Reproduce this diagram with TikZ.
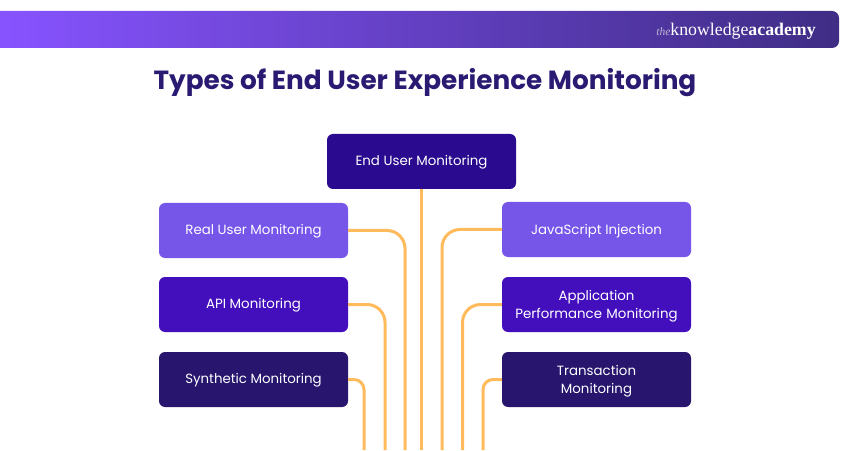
\documentclass[tikz,border=0pt]{standalone}
\usepackage{fontspec}
\setmainfont{Poppins}
\newfontfamily\logofont{Liberation Serif}
\usetikzlibrary{positioning}
\definecolor{rootblue}{HTML}{2A0A8E}
\definecolor{lightviolet}{HTML}{7655E9}
\definecolor{midviolet}{HTML}{430FBC}
\definecolor{darkviolet}{HTML}{27156E}
\definecolor{linkorange}{HTML}{FFBA5C}
\definecolor{titleblue}{HTML}{2A1A72}
\definecolor{bannerleft}{HTML}{8753FF}
\definecolor{bannerright}{HTML}{3F2D85}

\begin{document}
\begin{tikzpicture}[x=1pt,y=1pt,every node/.append style={on grid,node distance=74.5pt and 343pt},
                    typebox/.style={rounded corners=6pt,minimum width=189pt,minimum height=55pt,inner sep=0pt,
                                    align=center,text=white,font=\fontsize{13.35}{18}\selectfont,
                                    execute at begin node={\rule{0pt}{12.5pt}}},
                    twoline/.style={text width=189pt,execute at begin node={\rule{0pt}{13pt}}},
                    link/.style={draw=linkorange,line width=3pt,rounded corners=18pt}]
\useasboundingbox (0,0) rectangle (850,450);

\shade[left color=bannerleft,right color=bannerright] (0,402) [rounded corners=7pt] -- (839,402) -- (839,439) [sharp corners] -- (0,439) -- cycle;
\node (logo) at (736,419) {\logofont\fontsize{17.8}{18}\selectfont\color{white}{\fontsize{11.5}{18}\selectfont\itshape\color{white!65!bannerright}the}knowledge\textbf{academy}};
\node (title) at (425,367.5) {\fontsize{26.3}{30}\selectfont\bfseries\color{titleblue}Types of End User Experience Monitoring};

\node [typebox,fill=rootblue] (root) at (421.5,288.5) {End User Monitoring};
\node [typebox,fill=lightviolet] (real) at (253.5,219.5) {Real User Monitoring};
\node [typebox,fill=midviolet,below=of real,yshift=0.5pt] (api) {API Monitoring};
\node [typebox,fill=darkviolet,below=of api,yshift=-0.5pt] (synth) {Synthetic Monitoring};
\node [typebox,fill=lightviolet,right=of real,yshift=1pt] (js) {JavaScript Injection};
\node [typebox,twoline,fill=midviolet,right=of api] (apm) {Application\\Performance Monitoring};
\node [typebox,twoline,fill=darkviolet,right=of synth] (trans) {Transaction\\Monitoring};

\coordinate (endroot) at (421.5,0);
\coordinate (endreal) at (405,0);
\coordinate (endapi) at (385,0);
\coordinate (endsynth) at (364,0);
\coordinate (endjs) at (442,0);
\coordinate (endapm) at (462.5,0);
\coordinate (endtrans) at (483,0);

\draw [link] (root) -- (endroot);
\draw [link] (real) -| (endreal);
\draw [link] (api) -| (endapi);
\draw [link,rounded corners=10pt] (synth) -| (endsynth);
\draw [link] (js) -| (endjs);
\draw [link] (apm) -| (endapm);
\draw [link,rounded corners=10pt] (trans) -| (endtrans);

\end{tikzpicture}
\end{document}
